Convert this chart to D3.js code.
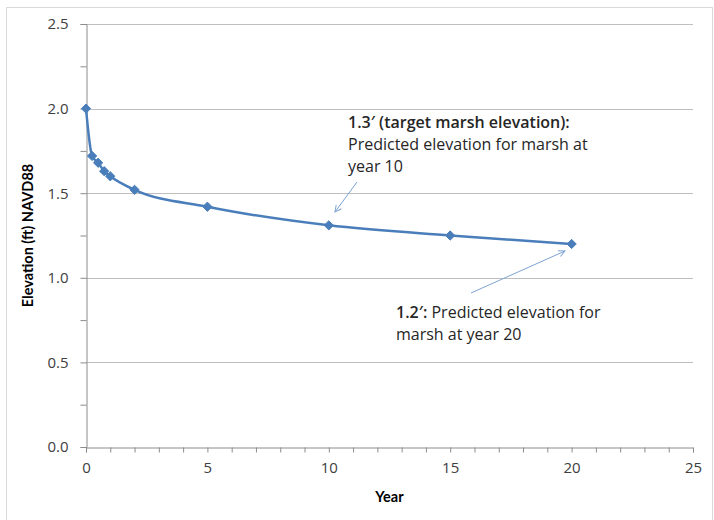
<!DOCTYPE html>
<html>
<head>
<meta charset="utf-8">
<script src="https://cdn.jsdelivr.net/npm/d3@7"></script>
<style>
  html, body { margin: 0; padding: 0; background: #fff; }
  svg { display: block; font-family: Lato, "Open Sans", sans-serif; }
</style>
</head>
<body>
<svg id="chart" width="714" height="520"></svg>
<script>
// data
const years = [0, 0.25, 0.5, 0.75, 1, 2, 5, 10, 15, 20];
const elevation = [2.0, 1.72, 1.68, 1.63, 1.60, 1.52, 1.42, 1.31, 1.25, 1.20];
const xTicks = [0, 5, 10, 15, 20, 25];
const yTicks = [0, 0.5, 1.0, 1.5, 2.0, 2.5];

const svg = d3.select('#chart');
const plot = { left: 86, right: 693, top: 24, bottom: 447 };
const noteFont = '"Open Sans", sans-serif';

// chart frame
svg.append('rect')
    .attr('x', 6.5).attr('y', 7.5)
    .attr('width', 706).attr('height', 520)
    .attr('fill', '#fff')
    .attr('stroke', '#d9d9d9');

const x = d3.scaleLinear().domain([0, 25]).range([plot.left, plot.right]);
const y = d3.scaleLinear().domain([0, 2.5]).range([plot.bottom, plot.top]);

// horizontal gridlines
svg.append('g')
    .selectAll('line')
    .data(yTicks.filter(d => d > 0))
    .join('line')
    .attr('x1', plot.left).attr('x2', plot.right)
    .attr('y1', d => Math.round(y(d)) + 0.5).attr('y2', d => Math.round(y(d)) + 0.5)
    .attr('stroke', '#bfbfbf')
    .attr('stroke-width', 1.2);

// y axis with minor ticks
svg.append('g')
    .attr('transform', `translate(${plot.left + 0.5},0)`)
    .call(d3.axisLeft(y).tickValues(d3.range(0, 2.51, 0.25)).tickSize(6).tickFormat(''));
const yLabels = svg.append('g')
    .attr('transform', `translate(${plot.left + 0.5},0)`)
    .call(d3.axisLeft(y).tickValues(yTicks).tickSize(0).tickPadding(18).tickFormat(d3.format('.1f')));
yLabels.select('.domain').remove();

// x axis with minor ticks
svg.append('g')
    .attr('transform', `translate(0,${plot.bottom + 0.5})`)
    .call(d3.axisBottom(x).tickValues(d3.range(0, 26, 1)).tickSize(5).tickFormat(''));
const xLabels = svg.append('g')
    .attr('transform', `translate(0,${plot.bottom + 0.5})`)
    .call(d3.axisBottom(x).tickValues(xTicks).tickSize(0).tickPadding(15).tickFormat(d3.format('d')));
xLabels.select('.domain').remove();

svg.selectAll('.domain').attr('stroke', '#8c8c8c');
svg.selectAll('.tick line').attr('stroke', '#8c8c8c');
svg.selectAll('.tick text')
    .attr('fill', '#404040')
    .attr('font-size', 15)
    .attr('font-family', noteFont);

// axis titles
svg.append('text')
    .attr('transform', `translate(33,${(plot.top + plot.bottom) / 2}) rotate(-90)`)
    .attr('text-anchor', 'middle')
    .attr('font-weight', 'bold')
    .attr('font-size', 14.5)
    .attr('fill', '#000')
    .text('Elevation (ft) NAVD88');

svg.append('text')
    .attr('x', (plot.left + plot.right) / 2)
    .attr('y', 502)
    .attr('text-anchor', 'middle')
    .attr('font-weight', 'bold')
    .attr('font-size', 14.5)
    .attr('fill', '#000')
    .text('Year');

// series
const pts = years.map((d, i) => [d, elevation[i]]);
const line = d3.line()
    .x(d => x(d[0]))
    .y(d => y(d[1]))
    .curve(d3.curveMonotoneX);

svg.append('path')
    .datum(pts)
    .attr('d', line)
    .attr('fill', 'none')
    .attr('stroke', '#4a7ebb')
    .attr('stroke-width', 2.5);

svg.append('g')
    .selectAll('path')
    .data(pts)
    .join('path')
    .attr('transform', d => `translate(${x(d[0])},${y(d[1])})`)
    .attr('d', d3.symbol(d3.symbolDiamond2, 55))
    .attr('fill', '#4a7ebb')
    .attr('stroke', '#4a7ebb')
    .attr('stroke-width', 1);

// annotations
svg.append('defs').append('marker')
    .attr('id', 'arrow')
    .attr('viewBox', '0 0 10 10')
    .attr('refX', 9).attr('refY', 5)
    .attr('markerWidth', 8).attr('markerHeight', 8)
    .attr('orient', 'auto')
    .append('path')
    .attr('d', 'M1,1 L9,5 L1,9')
    .attr('fill', 'none')
    .attr('stroke', '#7da3d3')
    .attr('stroke-width', 1.2);

function arrow(x1, y1, x2, y2) {
    svg.append('line')
        .attr('x1', x1).attr('y1', y1)
        .attr('x2', x2).attr('y2', y2)
        .attr('stroke', '#7da3d3')
        .attr('stroke-width', 1)
        .attr('marker-end', 'url(#arrow)');
}
arrow(357, 182, 335, 212);
arrow(471, 293, 565, 251);

function note(x0, y0, lines) {
    const t = svg.append('text')
        .attr('font-size', 16)
        .attr('font-family', noteFont)
        .attr('fill', '#262626');
    lines.forEach((ln, i) => {
        const ts = t.append('tspan').attr('x', x0).attr('y', y0 + i * 22);
        ln.forEach(part => {
            ts.append('tspan')
                .attr('font-weight', part.bold ? 600 : 'normal')
                .text(part.t);
        });
    });
}
note(348, 128, [
    [{ t: '1.3\u2032 (target marsh elevation):', bold: true }],
    [{ t: 'Predicted elevation for marsh at' }],
    [{ t: 'year 10' }]
]);
note(396, 318, [
    [{ t: '1.2\u2032:', bold: true }, { t: ' Predicted elevation for' }],
    [{ t: 'marsh at year 20' }]
]);
</script>
</body>
</html>
